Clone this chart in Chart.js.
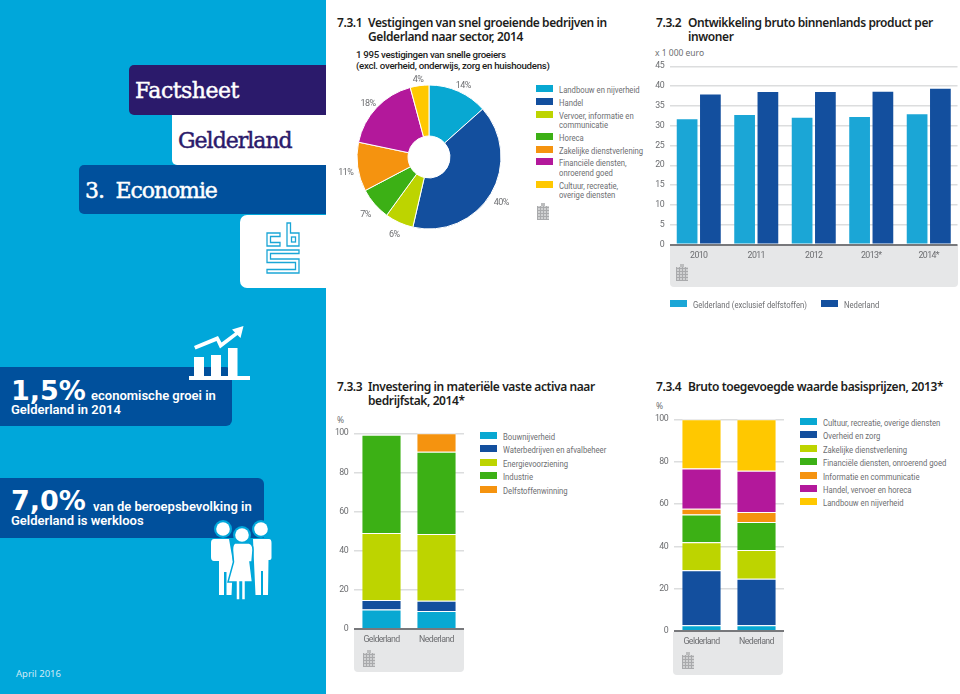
<!DOCTYPE html>
<html lang="nl">
<head>
<meta charset="UTF-8">
<title>Factsheet Gelderland - Economie</title>
<script src="https://cdn.jsdelivr.net/npm/chart.js"></script>
<style>
  html, body { margin: 0; padding: 0; background: #fff; }
  body { width: 960px; height: 694px; position: relative; overflow: hidden; font-family: "Noto Sans", sans-serif; color: #1d1d1b; }
  .abs { position: absolute; white-space: nowrap; }
  canvas { position: absolute; }
  #panel { position: absolute; left: 0; top: 0; width: 326px; height: 694px; background: #00a7da; }
  .band { position: absolute; }
  .slab { font-family: "DejaVu Serif", serif; font-size: 22px; line-height: 50px; letter-spacing: -0.5px; -webkit-text-stroke: 0.45px currentColor; }
  .big { font-family: "DejaVu Sans", sans-serif; font-weight: 700; font-size: 27px; color: #fff; line-height: 28px; }
  .bandtxt { font-family: "Roboto", sans-serif; font-weight: 600; font-size: 13px; color: #fff; line-height: 16px; }
  .h { font-weight: 600; font-size: 12px; line-height: 13.5px; letter-spacing: -0.4px; color: #1d1d1b; }
  .sub { font-family: "Roboto", sans-serif; font-weight: 500; font-size: 9.7px; line-height: 11px; letter-spacing: -0.3px; }
  .unit { font-size: 8.5px; color: #6d6e71; line-height: 10px; }
  .tile { position: absolute; background: #e6e7e8; border-radius: 0 0 4px 4px; }
  .lg { position: absolute; font-family: "Roboto", sans-serif; font-size: 9.5px; color: #6d6e71; line-height: 9.4px; }
  .lg .item { position: relative; padding-left: 23px; margin-bottom: 3.4px; white-space: pre; }
  .lg.wide .item { margin-bottom: 4px; }
  .lg .txt { display: inline-block; transform: scaleX(0.81); transform-origin: left top; }
  .lg .sw { position: absolute; left: 0; top: 0; width: 17px; height: 7px; }
  .stat { position: absolute; width: 12px; height: 14px; background-color: #d0d1d2;
    background-image: repeating-linear-gradient(0deg, #a9aaac 0 1px, transparent 1px 3px), repeating-linear-gradient(90deg, #a9aaac 0 1px, transparent 1px 3px); }
  .stat::before { content: ""; position: absolute; left: 4px; top: -3px; width: 4px; height: 3px; background: #bcbdbe; }
</style>
</head>
<body>
<div id="panel"></div>
<div class="band" style="left:129px;top:65px;width:197px;height:50px;background:#2b1a6b;border-radius:5px 0 0 5px"></div>
<div class="abs slab" style="left:135px;top:66px;color:#fff">Factsheet</div>
<div class="band" style="left:172px;top:115px;width:154px;height:50px;background:#fff;border-radius:0 0 0 5px"></div>
<div class="abs slab" style="left:178px;top:116px;color:#2b1a6b;letter-spacing:-1px">Gelderland</div>
<div class="band" style="left:79px;top:165px;width:247px;height:49px;background:#00509c;border-radius:5px 0 0 5px"></div>
<div class="abs slab" style="left:85px;top:166px;color:#fff;letter-spacing:-1.1px">3.&nbsp;&nbsp;Economie</div>
<div class="band" style="left:240px;top:215px;width:86px;height:73px;background:#fff;border-radius:7px 0 0 7px"></div>
<svg class="abs" style="left:0;top:0" width="326" height="694" fill="none">
  <g stroke="#1ba6d6" stroke-width="1.3">
    <path d="M280 233H267V246H280V242.5H270.5V236.5H280Z"/>
    <path d="M287 223V246H299V233H290.5V223Z"/>
    <rect x="291.5" y="237" width="4" height="5"/>
    <path d="M267 250H299V253.5H270.5V259H299V273H267V269.5H295.5V262.5H267Z"/>
  </g>
</svg>

<div class="band" style="left:0;top:367px;width:232px;height:59px;background:#00509c;border-radius:0 6px 6px 0"></div>
<div class="abs big" style="left:11px;top:377px">1,5%</div>
<div class="abs bandtxt" style="left:91px;top:388px">economische groei in</div>
<div class="abs bandtxt" style="left:11px;top:402px">Gelderland in 2014</div>
<svg class="abs" style="left:185px;top:322px" width="70" height="62">
  <g fill="#fff" transform="translate(-185,-322)">
    <rect x="189" y="376" width="61" height="4"/>
    <rect x="194" y="357" width="10" height="20"/>
    <rect x="211" y="355" width="10" height="22"/>
    <rect x="228" y="348" width="9.5" height="29"/>
    <path d="M243.5 326L232 329.5L235 332.5L221.5 342.5L218 336L194 346L195.5 349.5L216.5 341L220 348.5L237.5 335L240.5 338Z"/>
  </g>
</svg>

<div class="band" style="left:0;top:478px;width:264px;height:60px;background:#00509c;border-radius:0 6px 0 0"></div>
<div class="abs big" style="left:11px;top:487px">7,0%</div>
<div class="abs bandtxt" style="left:93px;top:499px">van de beroepsbevolking in</div>
<div class="abs bandtxt" style="left:11px;top:513px">Gelderland is werkloos</div>
<svg class="abs" style="left:205px;top:515px" width="70" height="90">
  <g transform="translate(-205,-515)">
    <circle cx="261" cy="529" r="9" fill="#00a7da"/><circle cx="223" cy="529" r="9" fill="#00a7da"/>
    <circle cx="261" cy="529" r="6.8" fill="#fff"/><circle cx="223" cy="529" r="6.8" fill="#fff"/>
    <path fill="#fff" d="M253 539H269Q271.500 539 271.500 543V558Q271.500 560 269.500 560H268.500L268 595H263V571H261V595H255.500L254 562Z"/>
    <path fill="#fff" d="M214 539H229L233 562L231.500 595H226.500V572H224V595H219V561H214Q211 561 211 557V543Q211 539 214 539Z"/>
    <circle cx="242" cy="535" r="9" fill="#00a7da"/><circle cx="242" cy="535" r="6.8" fill="#fff"/>
    <path fill="#fff" stroke="#00a7da" stroke-width="1.5" d="M235 543H249Q253 544 253 550L252 562H250L252.500 582H245.500V600H241.500V582H240V600H236V582H228L233.500 562L232.500 550Q232.500 544 235 543Z"/>
  </g>
</svg>
<div class="abs" style="left:16px;top:668px;font-size:9.5px;color:#cfeaf6;line-height:12px">April 2016</div>

<!-- 7.3.1 -->
<div class="abs h" style="left:337px;top:16px">7.3.1</div>
<div class="abs h" style="left:368px;top:16px">Vestigingen van snel groeiende bedrijven in<br>Gelderland naar sector, 2014</div>
<div class="abs sub" style="left:356px;top:49px">1 995 vestigingen van snelle groeiers<br>(excl. overheid, onderwijs, zorg en huishoudens)</div>
<canvas id="pie" width="200" height="200" style="left:329px;top:57px"></canvas>
<div class="lg" id="pieLegend" style="left:536px;top:85px"></div>
<div class="stat" style="left:537px;top:206px"></div>

<!-- 7.3.2 -->
<div class="abs h" style="left:656px;top:16px">7.3.2</div>
<div class="abs h" style="left:688px;top:16px">Ontwikkeling bruto binnenlands product per<br>inwoner</div>
<div class="abs unit" style="left:655px;top:48px">x 1 000 euro</div>
<div class="tile" style="left:670px;top:245px;width:288px;height:42px"></div>
<canvas id="bars" width="310" height="240" style="left:650px;top:55px"></canvas>
<div class="stat" style="left:676px;top:267px"></div>
<div class="lg" id="barLegend" style="left:670px;top:300px;display:flex"></div>

<!-- 7.3.3 -->
<div class="abs h" style="left:337px;top:380px">7.3.3</div>
<div class="abs h" style="left:368px;top:380px">Investering in materiële vaste activa naar<br>bedrijfstak, 2014*</div>
<div class="abs unit" style="left:337px;top:415px">%</div>
<div class="tile" style="left:354px;top:629px;width:110px;height:43px"></div>
<canvas id="invest" width="140" height="270" style="left:330px;top:422px"></canvas>
<div class="stat" style="left:363px;top:653px"></div>
<div class="lg wide" id="investLegend" style="left:480px;top:432px"></div>

<!-- 7.3.4 -->
<div class="abs h" style="left:656px;top:380px">7.3.4</div>
<div class="abs h" style="left:688px;top:380px">Bruto toegevoegde waarde basisprijzen, 2013*</div>
<div class="abs unit" style="left:656px;top:401px">%</div>
<div class="tile" style="left:673px;top:632px;width:110px;height:43px"></div>
<canvas id="gva" width="140" height="286" style="left:650px;top:408px"></canvas>
<div class="stat" style="left:682px;top:655px"></div>
<div class="lg wide" id="gvaLegend" style="left:800px;top:418px"></div>

<script>
  // 7.3.1
  const sectorLabels = ["Landbouw en nijverheid", "Handel", "Vervoer, informatie en\ncommunicatie", "Horeca", "Zakelijke dienstverlening", "Financiële diensten,\nonroerend goed", "Cultuur, recreatie,\noverige diensten"];
  const sectorValues = [13.4, 40.2, 6.4, 7.3, 11, 17.5, 4.2];
  const sectorPercent = ["14%", "40%", "6%", "7%", "11%", "18%", "4%"];

  // 7.3.2
  const bbpYears = ["2010", "2011", "2012", "2013*", "2014*"];
  const bbpGelderland = [31.6, 32.7, 32.0, 32.2, 32.9];
  const bbpNederland = [37.9, 38.5, 38.5, 38.6, 39.3];
  const bbpSeries = ["Gelderland (exclusief delfstoffen)", "Nederland"];

  // 7.3.3 and 7.3.4 share these
  const regions = ["Gelderland", "Nederland"];

  const investLabels = ["Bouwnijverheid", "Waterbedrijven en afvalbeheer", "Energievoorziening", "Industrie", "Delfstoffenwinning"];
  const investGelderland = [10.0, 4.8, 34.3, 50.2, 0];
  const investNederland = [9.2, 5.2, 34.2, 41.9, 9.5];

  const gvaLabels = ["Cultuur, recreatie, overige diensten", "Overheid en zorg", "Zakelijke dienstverlening", "Financiële diensten, onroerend goed", "Informatie en communicatie", "Handel, vervoer en horeca", "Landbouw en nijverheid"];
  const gvaGelderland = [2.7, 26.0, 13.2, 13.1, 2.7, 19.1, 23.2];
  const gvaNederland = [2.7, 22.0, 13.5, 13.3, 4.7, 19.5, 24.3];

  const SKY = "#1ba6d6", CYAN = "#08a8d2", BLUE = "#134f9e", LIME = "#bdd400", GREEN = "#3cb015", ORANGE = "#f5930f", PURPLE = "#b3189b", YELLOW = "#ffc800";
  const TEXT = "#6d6e71", GRID = "#dcddde", AXIS = "#77787b";
  const tickFont = { family: "Roboto", size: 8.8 };

  Chart.defaults.animation = false;
  Chart.defaults.responsive = false;
  Chart.defaults.plugins.legend.display = false;
  Chart.defaults.plugins.tooltip.enabled = false;

  // the original uses a narrow typeface, tighten the canvas text a bit
  Chart.register({
    id: "tightText",
    beforeDraw(chart) { chart.ctx.letterSpacing = "-0.6px"; }
  });

  function legend(id, labels, colors) {
    const box = document.getElementById(id);
    labels.forEach((label, i) => {
      const item = document.createElement("div");
      item.className = "item";
      const txt = document.createElement("span");
      txt.className = "txt";
      txt.textContent = label;
      const sw = document.createElement("span");
      sw.className = "sw";
      sw.style.background = colors[i];
      item.appendChild(txt);
      item.appendChild(sw);
      box.appendChild(item);
    });
    return box;
  }

  function gridColor(ctx) { return ctx.tick && ctx.tick.value === 0 ? AXIS : GRID; }
  function gridWidth(ctx) { return ctx.tick && ctx.tick.value === 0 ? 2 : 1.5; }

  function valueAxis(max, step, width) {
    return {
      min: 0, max: max,
      afterFit: (s) => { s.width = width; },
      border: { display: false },
      grid: { color: gridColor, lineWidth: gridWidth, drawTicks: false },
      ticks: { stepSize: step, padding: 6, color: TEXT, font: tickFont }
    };
  }

  function catAxis(height) {
    return {
      afterFit: (s) => { s.height = height; },
      border: { display: false },
      grid: { display: false, drawTicks: false },
      ticks: { padding: 6, color: TEXT, font: tickFont, maxRotation: 0, autoSkip: false }
    };
  }

  // percent labels round the doughnut
  const percentLabels = {
    id: "percentLabels",
    afterDatasetsDraw(chart) {
      const { ctx } = chart;
      ctx.save();
      ctx.fillStyle = TEXT;
      ctx.font = "9px Roboto";
      ctx.textAlign = "center";
      ctx.textBaseline = "middle";
      chart.getDatasetMeta(0).data.forEach((arc, i) => {
        const mid = (arc.startAngle + arc.endAngle) / 2;
        const sin = Math.sin(mid);
        ctx.fillText(sectorPercent[i], arc.x + Math.cos(mid) * 84, arc.y + sin * 80 + (sin > 0 ? 5 : 2));
      });
      ctx.restore();
    }
  };

  const pieColors = [CYAN, BLUE, LIME, GREEN, ORANGE, PURPLE, YELLOW];
  new Chart(document.getElementById("pie"), {
    type: "doughnut",
    data: { labels: sectorLabels, datasets: [{ data: sectorValues, backgroundColor: pieColors, borderColor: "#fff", borderWidth: 1 }] },
    options: { radius: 72, cutout: 29, layout: { padding: 0 } },
    plugins: [percentLabels]
  });
  legend("pieLegend", sectorLabels, pieColors);

  new Chart(document.getElementById("bars"), {
    type: "bar",
    data: {
      labels: bbpYears,
      datasets: [
        { label: bbpSeries[0], data: bbpGelderland, backgroundColor: SKY },
        { label: bbpSeries[1], data: bbpNederland, backgroundColor: BLUE }
      ]
    },
    options: {
      layout: { padding: { top: 10.5, right: 2.5 } },
      datasets: { bar: { categoryPercentage: 0.81, barPercentage: 0.89 } },
      scales: { x: catAxis(50.5), y: valueAxis(45, 5, 20) }
    }
  });
  const barBox = legend("barLegend", bbpSeries, [SKY, BLUE]);
  barBox.children[0].style.width = "128px";

  function stacked(id, labels, first, second, colors) {
    return new Chart(document.getElementById(id), {
      type: "bar",
      data: {
        labels: regions,
        datasets: labels.map((label, i) => ({
          label: label,
          data: [first[i], second[i]],
          backgroundColor: colors[i],
          borderColor: "#fff",
          borderWidth: { top: 1 },
          borderSkipped: false
        }))
      },
      options: {
        layout: { padding: { top: 10, right: 6 } },
        datasets: { bar: { categoryPercentage: 0.7, barPercentage: 1 } },
        scales: {
          x: { ...catAxis(63), stacked: true },
          y: { ...valueAxis(100, 20, 24), stacked: true }
        }
      }
    });
  }

  const investColors = [CYAN, BLUE, LIME, GREEN, ORANGE];
  stacked("invest", investLabels, investGelderland, investNederland, investColors);
  legend("investLegend", investLabels, investColors);

  const gvaColors = [CYAN, BLUE, LIME, GREEN, ORANGE, PURPLE, YELLOW];
  stacked("gva", gvaLabels, gvaGelderland, gvaNederland, gvaColors);
  legend("gvaLegend", gvaLabels, gvaColors);
</script>
</body>
</html>
